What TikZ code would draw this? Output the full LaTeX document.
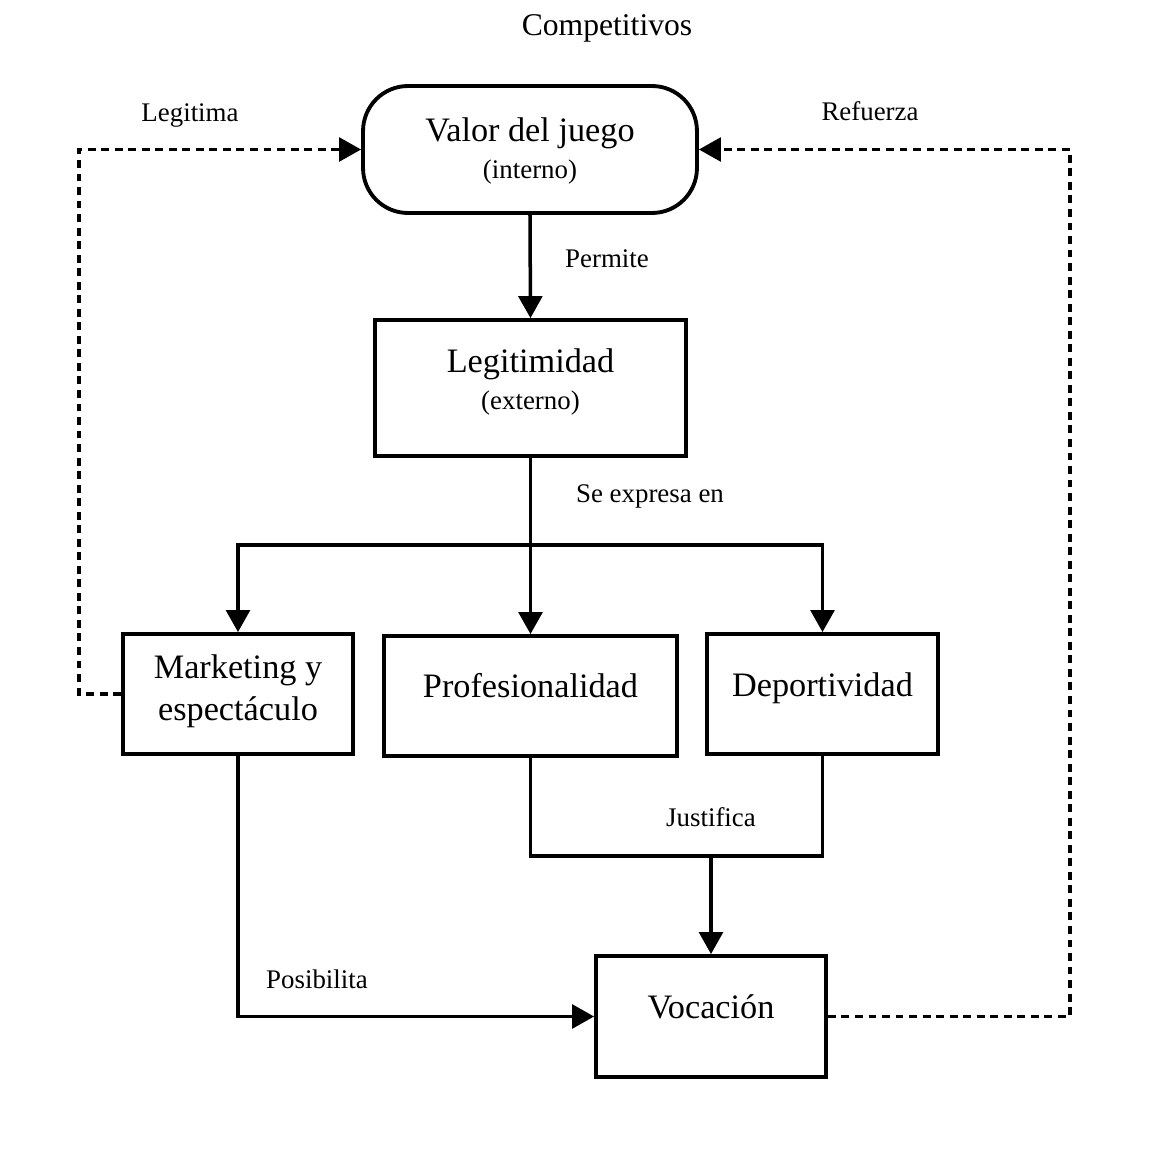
\documentclass[tikz,border=0pt]{standalone}
\usepackage{fontspec}
\setmainfont{Liberation Serif}
\usetikzlibrary{arrows.meta}
\newcommand{\boxtext}[3]{\raisebox{#1}[0pt][0pt]{\fontsize{19.5}{#2}\selectfont\begin{tabular}[b]{@{}c@{}}#3\end{tabular}}}
\newcommand{\smalltext}[1]{{\fontsize{15.3}{18}\selectfont #1}}
\begin{document}
\begin{tikzpicture}[x=0.02cm,y=-0.02cm,
  box/.style={draw,line width=2.2pt,inner sep=0pt},
  rbox/.style={box,rounded corners=0.9cm},
  lbl/.style={font=\fontsize{15.3}{18}\selectfont,inner sep=0pt,text height=10.2pt,text depth=0pt},
  conn/.style={line width=2pt},
  arr/.style={conn,-{Triangle[length=12.5pt,width=13.5pt]}},
  darr/.style={line width=1.9pt,dash pattern=on 4.5pt off 3.2pt,-{Triangle[length=12.5pt,width=13.5pt]}}
]
\useasboundingbox (0,0) rectangle (1171,1153);
\node[lbl,font=\fontsize{18}{21}\selectfont,text height=11.9pt] (title) at (607,25) {Competitivos};
\node[rbox,minimum width=6.68cm,minimum height=2.54cm] (valor) at (530,149.5)
  {\boxtext{-16.7pt}{21.4pt}{Valor del juego\\\smalltext{(interno)}}};
\node[box,minimum width=6.22cm,minimum height=2.72cm] (legit) at (530.5,388)
  {\boxtext{-12.3pt}{21pt}{Legitimidad\\\smalltext{(externo)}}};
\node[box,minimum width=4.6cm,minimum height=2.4cm] (mkt) at (238,694)
  {\boxtext{-15pt}{24pt}{Marketing y\\espectáculo}};
\node[box,minimum width=5.86cm,minimum height=2.4cm] (prof) at (530.5,696)
  {\boxtext{-0.6pt}{23pt}{Profesionalidad}};
\node[box,minimum width=4.62cm,minimum height=2.4cm] (dep) at (822.5,694)
  {\boxtext{-1.7pt}{23pt}{Deportividad}};
\node[box,minimum width=4.6cm,minimum height=2.42cm] (voc) at (711,1016.5)
  {\boxtext{-0.9pt}{23pt}{Vocación}};
% labels
\node[lbl] (lperm) at (607,259) {Permite};
\node[lbl] (lexp) at (650,494) {Se expresa en};
\node[lbl] (llegi) at (190,113) {Legitima};
\node[lbl] (lref) at (870,112) {Refuerza};
\node[lbl] (ljus) at (711,818) {Justifica};
\node[lbl] (lpos) at (317,980) {Posibilita};
% coordinates
\coordinate (split) at (530.5,545);
\coordinate (jl) at (530.5,856);
\coordinate (jm) at (711,856);
\coordinate (jr) at (822.5,856);
\coordinate (dl) at (79,694);
\coordinate (dr) at (1070,1016.5);
% connectors
\draw[arr] (valor.south) -- (legit.north);
\draw[arr] (legit.south) -- (prof.north);
\draw[arr] (split) -| (mkt.north);
\draw[arr] (split) -| (dep.north);
\draw[conn] (prof.south) -- (jl) -- (jr) -- (dep.south);
\draw[arr] (jm) -- (voc.north);
\draw[arr] (mkt.south) |- (voc.west);
\draw[darr] (mkt.west) -- (dl) |- (valor.west);
\draw[darr] (voc.east) -- (dr) |- (valor.east);
\end{tikzpicture}
\end{document}
